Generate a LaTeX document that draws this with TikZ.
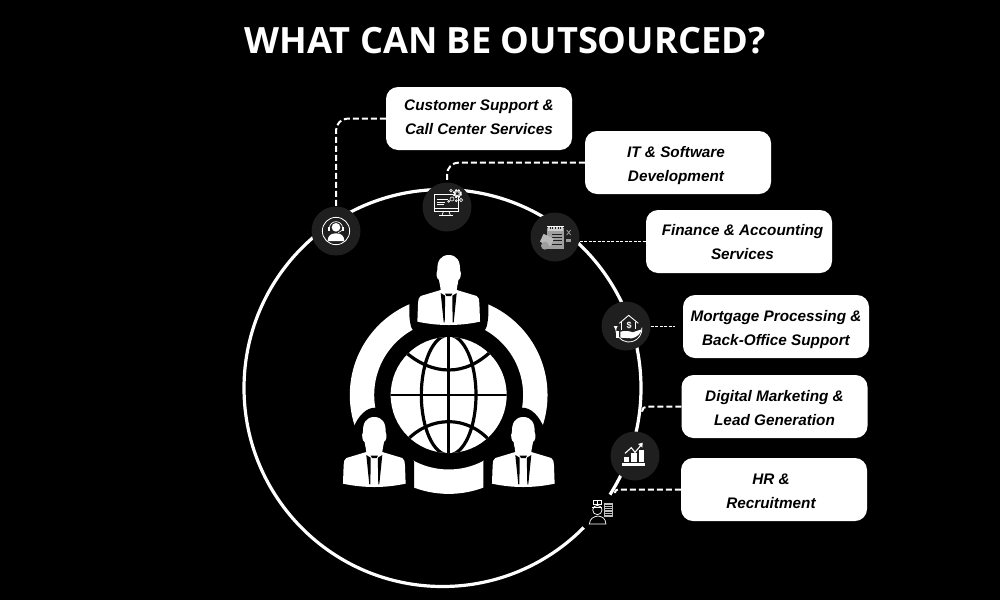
\documentclass[tikz,border=0pt]{standalone}
\usepackage{fontspec}
\setmainfont{Liberation Sans}
\newfontfamily\titlefont{Open Sans}
\definecolor{disc}{HTML}{1F1F1F}
\newcommand{\low}[2]{\raisebox{-#1}[11pt][3.5pt]{#2}}
\tikzset{
  boxnode/.style={fill=white,draw=none,rounded corners=12pt,minimum width=186pt,minimum height=63pt,inner sep=0pt,align=center,text=black,font=\fontsize{15.3}{24}\selectfont\bfseries\itshape},
  icondisc/.style={circle,fill=disc,draw=none,minimum size=49pt,inner sep=0pt},
  bigdash/.style={draw=white,line width=2pt,dash pattern=on 6pt off 3pt,rounded corners=10pt},
  thindash/.style={draw=white,line width=1pt,dash pattern=on 3pt off 1.5pt},
  zoomA/.style={x=1pt/3,y=-1pt/3},
  ic/.style={draw=white,line width=0.7pt,fill=none},
}
\newcommand{\personfig}[2]{%
\begin{scope}[shift={(#1,#2)},x=1pt/3,y=-1pt/3]
\fill[white] (0,-210) .. controls (-24,-210) and (-35,-192) .. (-34,-165)
 .. controls (-39,-155) and (-36,-138) .. (-29,-135) .. controls (-27,-120) and (-24,-112) .. (-24,-105)
 -- (-84,-87) .. controls (-90,-84) and (-92,-75) .. (-92,-65) -- (-94,-10)
 .. controls (-60,-3) and (-30,0) .. (0,0) .. controls (30,0) and (60,-3) .. (94,-10)
 -- (92,-65) .. controls (92,-75) and (90,-84) .. (84,-87) -- (24,-105)
 .. controls (24,-112) and (27,-120) .. (29,-135) .. controls (36,-138) and (39,-155) .. (34,-165)
 .. controls (35,-192) and (24,-210) .. (0,-210) -- cycle;
\fill[black] (-24,-96) -- (-11,-88) -- (-11,-60) -- (-12,-8) -- (-15,-8) -- cycle;
\fill[black] (24,-96) -- (11,-88) -- (11,-60) -- (12,-8) -- (15,-8) -- cycle;
\fill[black] (-11,-94) -- (11,-94) -- (7,-87) -- (-7,-87) -- cycle;
\end{scope}}
\begin{document}
\begin{tikzpicture}[x=1pt,y=-1pt]
\useasboundingbox (0,0) rectangle (1000,600);
\fill[black] (0,0) rectangle (1000,600);
\node[font=\titlefont\fontsize{36.2}{40}\selectfont\bfseries,text=white,inner sep=0pt] (title) at (505,41) {WHAT CAN BE OUTSOURCED?};
% big ring
\coordinate (hub) at (442.5,388);
\draw[white,line width=3.2pt] (hub) circle[radius=198.5pt];
% central figure
\begin{scope}[shift={(330,240)},zoomA]
 \draw[white,line width=24.4pt] (356,465) circle[radius=260];
 \fill[black,rounded corners=6pt] (238,120) -- (238,240) -- (248,278) -- (465,278) -- (475,240) -- (475,120) -- cycle;
 \fill[black] (0,570) -- (68,568) .. controls (85,525) and (110,503) .. (135,503) .. controls (170,503) and (195,530) .. (240,640) -- (252,665) -- (252,790) -- (0,790) -- cycle;
 \fill[black] (712,570) -- (644,568) .. controls (627,525) and (602,503) .. (577,503) .. controls (542,503) and (517,530) .. (472,640) -- (460,665) -- (460,790) -- (712,790) -- cycle;
 \fill[white] (356,465) circle[radius=174];
 \begin{scope}
  \clip (356,465) circle[radius=174];
  \draw[black,line width=3.2pt] (356,465) ellipse[x radius=82,y radius=180];
  \draw[black,line width=2.6pt] (356,280) -- (356,650);
  \draw[black,line width=2.2pt] (170,465) -- (540,465);
  \draw[black,line width=3.2pt] (225,335) .. controls (265,370) and (310,390) .. (356,390) .. controls (402,390) and (447,370) .. (487,330);
  \draw[black,line width=3.2pt] (232,600) .. controls (265,565) and (310,545) .. (356,545) .. controls (402,545) and (447,565) .. (482,605);
 \end{scope}
\end{scope}
\personfig{448.7}{325}
\personfig{374.3}{487}
\personfig{523.3}{487}
% boxes
\node[boxnode] (b1) at (479,118.5) {\low{0.7pt}{Customer Support \&}\\\low{0.7pt}{Call Center Services}};
\node[boxnode] (b2) at (678,162.5) {\low{3pt}{IT \& Software}\hspace*{4pt}\\\low{3pt}{Development}\hspace*{4pt}};
\node[boxnode] (b3) at (739,241.5) {\hspace*{7pt}\low{2pt}{Finance \& Accounting}\\\hspace*{7pt}\low{2pt}{Services}};
\node[boxnode] (b4) at (776,326.5) {\low{3pt}{Mortgage Processing \&}\\\low{3pt}{Back-Office Support}};
\node[boxnode] (b5) at (774.5,406.5) {\low{3pt}{Digital Marketing \&}\\\low{3pt}{Lead Generation}};
\node[boxnode] (b6) at (774,489.5) {\low{3pt}{HR \&}\hspace*{6pt}\\\low{3pt}{Recruitment}\hspace*{6pt}};
% discs
\node[icondisc] (i1) at (336,231) {};
\node[icondisc] (i2) at (447,207) {};
\node[icondisc] (i3) at (555,237) {};
\node[icondisc] (i4) at (626,326) {};
\node[icondisc] (i5) at (635,456) {};
\node[circle,fill=black,minimum size=42pt,inner sep=0pt] (i6) at (598,512) {};
\coordinate (c5) at (642,412);
\coordinate (c6) at (615,493);
% connectors
\draw[bigdash,rounded corners=12pt] (b1.west) -| (i1.north);
\draw[bigdash,rounded corners=12pt] (b2.west) -| (i2.north);
\draw[thindash] (i3.east |- b3.west) -- (b3.west);
\draw[thindash] (i4.east |- b4.west) -- ([xshift=-8pt]b4.west);
\draw[bigdash,rounded corners=5pt] (b5.west) -- (c5 |- b5.west) -- (c5);
\draw[bigdash,rounded corners=3pt] (b6.west) -- (c6 |- b6.west) -- (c6);
% icon 1 headset
\begin{scope}[shift={(300,170)},zoomA]
 \draw[white,line width=0.8pt] (108,183) circle[radius=41];
 \fill[white] (108,172) circle[radius=13];
 \fill[white] (83,213) .. controls (83,195) and (95,190) .. (108,190) .. controls (121,190) and (133,195) .. (133,213) -- cycle;
 \draw[white,line width=0.7pt] (88,176) .. controls (88,148) and (128,148) .. (128,176);
 \fill[white] (85,170) rectangle (90,182);
 \fill[white] (126,170) rectangle (131,182);
 \draw[white,line width=0.6pt] (128,180) -- (115,188);
\end{scope}
% icon 2 monitor and gears
\begin{scope}[shift={(300,170)},zoomA]
 \draw[ic,line width=0.8pt] (402,73) rectangle (476,125);
 \draw[ic,line width=0.6pt] (402,115) -- (476,115);
 \draw[ic] (430,125) -- (426,136) (447,125) -- (451,136);
 \draw[ic] (417,136) -- (460,136);
 \draw[ic,line width=0.5pt] (410,88) -- (445,88) (410,96) -- (435,96) (410,104) -- (432,104);
 \fill[disc] (472,71) circle[radius=14];
 \draw[white,line width=2pt,dash pattern=on 2pt off 0.9pt] (472,71) circle[radius=11];
 \draw[ic,line width=0.6pt] (472,71) circle[radius=6];
 \draw[ic,line width=0.6pt] (453,62) circle[radius=4];
 \fill[disc] (456,87) circle[radius=7];
 \draw[ic,line width=0.6pt] (456,87) circle[radius=6];
 \draw[ic,line width=0.6pt] (483,90) circle[radius=5];
 \draw[ic,line width=0.6pt] (446,94) circle[radius=3];
 \draw[ic,line width=0.6pt] (469,92) circle[radius=3];
\end{scope}
% icon 3 notepad
\begin{scope}[shift={(300,170)},zoomA]
 \fill[gray!75!white] (742,175) rectangle (791,237);
 \fill[gray!40!white] (745,168) rectangle (788,182);
 \foreach \sx in {750,758,766,774,782} \draw[disc,line width=0.5pt] (\sx,162) -- (\sx,176);
 \draw[white,line width=0.5pt] (742,170) -- (791,170);
 \foreach \sy in {192,202,212,222} \draw[disc,line width=0.6pt] (756,\sy) -- (785,\sy);
 \fill[gray!55!white,rotate around={-25:(742,210)}] (724,198) rectangle (758,224);
 \fill[gray!75!white] (735,227) circle[radius=12];
 \draw[gray!80!white,line width=0.8pt] (800,180) -- (812,195) (812,180) -- (800,195);
 \fill[gray!80!white] (798,206) rectangle (813,217);
\end{scope}
% icon 4 house and hand
\begin{scope}[shift={(570,290)},zoomA]
 \draw[ic,line width=0.8pt] (137,113) arc[start angle=185,end angle=-5,radius=39.5];
 \fill[white] (131,108) -- (143,108) -- (137,120) -- cycle;
 \draw[ic,line width=0.9pt] (148,100) -- (176,76) -- (205,100);
 \draw[ic,line width=0.8pt] (155,96) -- (155,120) (197,96) -- (197,116);
 \node[text=white,font=\fontsize{9}{9}\selectfont\bfseries,inner sep=0pt] (dollar) at (177,105) {\$};
 \fill[white] (138,122) rectangle (148,145);
 \fill[white] (151,125) .. controls (165,121) and (178,123) .. (188,127) -- (215,118) .. controls (213,130) and (200,143) .. (185,145) -- (151,143) -- cycle;
\end{scope}
% icon 5 chart
\begin{scope}[shift={(570,290)},zoomA]
 \fill[white] (162,501) rectangle (178,515);
 \fill[white] (184,490) rectangle (200,515);
 \fill[white] (206,481) rectangle (222,515);
 \fill[white] (157,520) rectangle (226,527);
 \draw[white,line width=1.1pt] (165,490) -- (184,473) -- (195,487) -- (214,464);
 \fill[white] (204,462) -- (218,458) -- (217,473) -- cycle;
\end{scope}
% icon 6 agent with document
\begin{scope}[shift={(570,290)},zoomA]
 \draw[ic,line width=0.6pt] (70,632) rectangle (95,644);
 \draw[ic,line width=0.6pt] (82,632) -- (82,644);
 \draw[ic,line width=0.7pt] (82,660) circle[radius=14];
 \draw[ic,line width=0.7pt] (67,652) -- (97,652);
 \draw[ic,line width=0.7pt] (58,702) .. controls (60,685) and (70,680) .. (84,678) .. controls (98,680) and (106,685) .. (108,702) -- cycle;
 \fill[white!75!black] (101,638) rectangle (130,680);
 \foreach \ly in {645,652,659,666,673} \draw[black,line width=0.5pt] (105,\ly) -- (126,\ly);
\end{scope}
\end{tikzpicture}
\end{document}
